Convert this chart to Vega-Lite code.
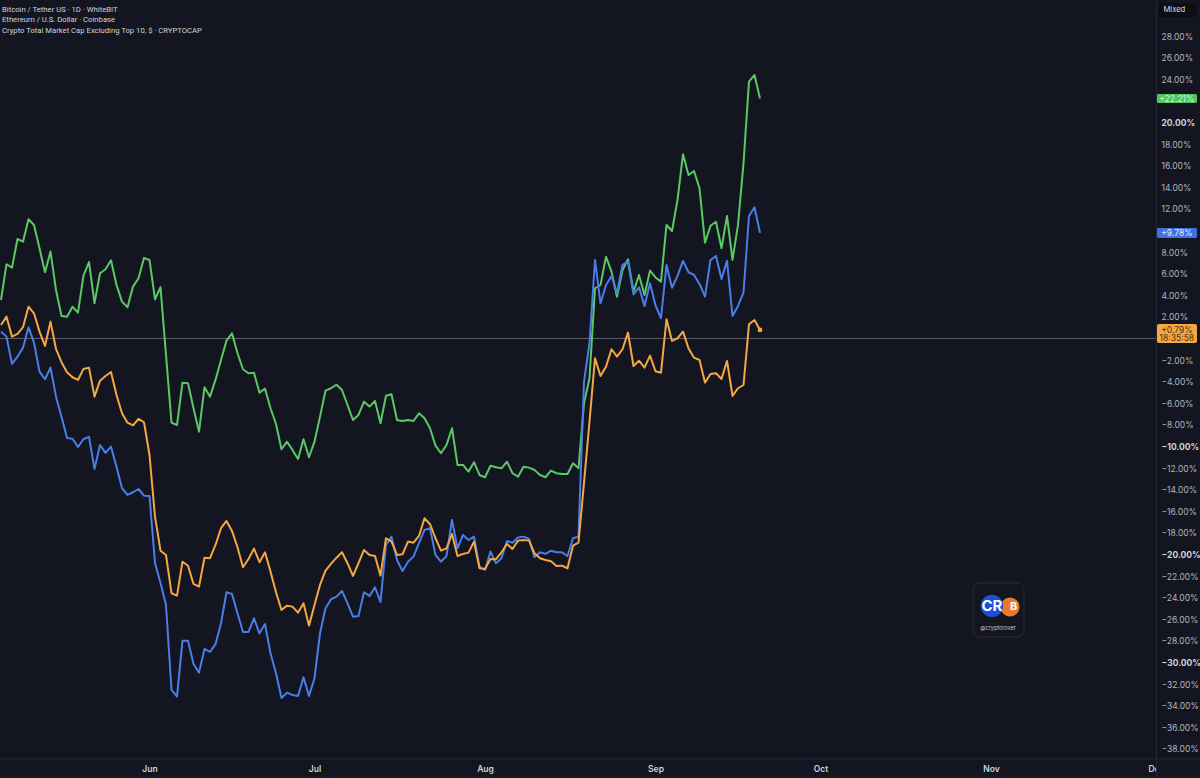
{"$schema":"https://vega.github.io/schema/vega-lite/v6.json","width":1156,"height":759,"padding":{"left":0,"top":0,"right":44,"bottom":19},"autosize":{"type":"none"},"background":"#131621","config":{"view":{"stroke":null},"font":"Inter"},"resolve":{"axis":{"x":"independent","y":"independent"}},
"datasets":{"series":[
{"d":"2024-05-05","g":3.56,"b":0.63,"o":1.25},{"d":"2024-05-06","g":6.87,"b":0.17,"o":2.02},{"d":"2024-05-07","g":6.56,"b":-2.36,"o":0.17},{"d":"2024-05-08","g":9.21,"b":-1.69,"o":0.42},{"d":"2024-05-09","g":8.96,"b":-0.85,"o":1.04},{"d":"2024-05-10","g":11.04,"b":1.04,"o":2.94},{"d":"2024-05-11","g":10.51,"b":-0.39,"o":2.33},{"d":"2024-05-12","g":8.35,"b":-3.07,"o":0.63},{"d":"2024-05-13","g":6.13,"b":-3.78,"o":-0.69},{"d":"2024-05-14","g":8.04,"b":-2.70,"o":1.56},
{"d":"2024-05-15","g":4.49,"b":-5.39,"o":-0.97},{"d":"2024-05-16","g":2.08,"b":-7.24,"o":-2.20},{"d":"2024-05-17","g":2.02,"b":-9.21,"o":-3.13},{"d":"2024-05-18","g":2.94,"b":-9.28,"o":-3.59},{"d":"2024-05-19","g":2.39,"b":-10.05,"o":-3.84},{"d":"2024-05-20","g":5.81,"b":-9.31,"o":-2.82},{"d":"2024-05-21","g":7.08,"b":-9.12,"o":-2.70},{"d":"2024-05-22","g":3.26,"b":-12.08,"o":-5.39},{"d":"2024-05-23","g":6.04,"b":-9.86,"o":-3.91},{"d":"2024-05-24","g":6.41,"b":-10.60,"o":-3.47},
{"d":"2024-05-25","g":7.24,"b":-10.02,"o":-3.10},{"d":"2024-05-26","g":4.95,"b":-11.87,"o":-5.23},{"d":"2024-05-27","g":3.41,"b":-13.87,"o":-6.93},{"d":"2024-05-28","g":2.89,"b":-14.49,"o":-7.80},{"d":"2024-05-29","g":4.80,"b":-14.24,"o":-8.04},{"d":"2024-05-30","g":5.57,"b":-13.94,"o":-7.45},{"d":"2024-05-31","g":7.45,"b":-14.56,"o":-7.76},{"d":"2024-06-01","g":7.27,"b":-14.58,"o":-10.79},{"d":"2024-06-02","g":3.63,"b":-20.81,"o":-16.50},{"d":"2024-06-03","g":4.74,"b":-22.64,"o":-19.65},
{"d":"2024-06-04","g":-1.53,"b":-24.68,"o":-20.05},{"d":"2024-06-05","g":-7.80,"b":-32.55,"o":-23.59},{"d":"2024-06-06","g":-8.01,"b":-33.17,"o":-23.81},{"d":"2024-06-07","g":-4.09,"b":-27.98,"o":-20.67},{"d":"2024-06-08","g":-4.15,"b":-27.98,"o":-21.04},{"d":"2024-06-09","g":-6.46,"b":-30.14,"o":-22.73},{"d":"2024-06-10","g":-8.63,"b":-30.94,"o":-22.98},{"d":"2024-06-11","g":-4.52,"b":-28.75,"o":-20.30},{"d":"2024-06-12","g":-5.39,"b":-29.03,"o":-20.35},{"d":"2024-06-13","g":-3.84,"b":-28.31,"o":-19.12},
{"d":"2024-06-14","g":-1.99,"b":-26.37,"o":-17.57},{"d":"2024-06-15","g":-0.20,"b":-23.50,"o":-16.90},{"d":"2024-06-16","g":0.48,"b":-23.66,"o":-17.82},{"d":"2024-06-17","g":-1.37,"b":-25.44,"o":-19.33},{"d":"2024-06-18","g":-2.85,"b":-27.18,"o":-21.19},{"d":"2024-06-19","g":-3.22,"b":-27.18,"o":-20.42},{"d":"2024-06-20","g":-3.17,"b":-25.91,"o":-19.46},{"d":"2024-06-21","g":-5.02,"b":-27.30,"o":-20.72},{"d":"2024-06-22","g":-4.65,"b":-26.44,"o":-19.80},{"d":"2024-06-23","g":-6.46,"b":-29.15,"o":-21.59},
{"d":"2024-06-24","g":-7.92,"b":-31.00,"o":-23.50},{"d":"2024-06-25","g":-10.26,"b":-33.29,"o":-25.14},{"d":"2024-06-26","g":-9.56,"b":-32.80,"o":-24.74},{"d":"2024-06-27","g":-10.32,"b":-33.01,"o":-24.83},{"d":"2024-06-28","g":-11.16,"b":-33.10,"o":-25.39},{"d":"2024-06-29","g":-9.33,"b":-31.37,"o":-24.52},{"d":"2024-06-30","g":-11.00,"b":-33.10,"o":-26.59},{"d":"2024-07-01","g":-9.56,"b":-31.46,"o":-24.68},{"d":"2024-07-02","g":-7.24,"b":-27.30,"o":-22.82},{"d":"2024-07-03","g":-4.83,"b":-24.98,"o":-21.50},
{"d":"2024-07-04","g":-4.61,"b":-24.15,"o":-20.88},{"d":"2024-07-05","g":-4.28,"b":-23.91,"o":-20.30},{"d":"2024-07-06","g":-4.77,"b":-23.38,"o":-19.80},{"d":"2024-07-07","g":-6.16,"b":-24.52,"o":-20.81},{"d":"2024-07-08","g":-7.55,"b":-25.76,"o":-21.99},{"d":"2024-07-09","g":-7.08,"b":-25.69,"o":-20.81},{"d":"2024-07-10","g":-5.85,"b":-23.50,"o":-19.58},{"d":"2024-07-11","g":-6.31,"b":-23.84,"o":-20.05},{"d":"2024-07-12","g":-5.79,"b":-23.04,"o":-20.14},{"d":"2024-07-13","g":-7.85,"b":-24.40,"o":-21.96},
{"d":"2024-07-14","g":-5.30,"b":-19.12,"o":-18.50},{"d":"2024-07-15","g":-5.17,"b":-18.35,"o":-18.81},{"d":"2024-07-16","g":-7.55,"b":-20.51,"o":-20.05},{"d":"2024-07-17","g":-7.64,"b":-21.53,"o":-19.98},{"d":"2024-07-18","g":-7.55,"b":-20.67,"o":-18.81},{"d":"2024-07-19","g":-7.64,"b":-20.20,"o":-18.91},{"d":"2024-07-20","g":-6.93,"b":-18.96,"o":-18.29},{"d":"2024-07-21","g":-7.39,"b":-17.73,"o":-16.65},{"d":"2024-07-22","g":-8.31,"b":-17.57,"o":-17.20},{"d":"2024-07-23","g":-9.93,"b":-20.05,"o":-18.50},
{"d":"2024-07-24","g":-10.63,"b":-20.67,"o":-19.65},{"d":"2024-07-25","g":-9.86,"b":-20.14,"o":-19.43},{"d":"2024-07-26","g":-8.31,"b":-16.81,"o":-18.10},{"d":"2024-07-27","g":-11.71,"b":-19.43,"o":-20.14},{"d":"2024-07-28","g":-11.71,"b":-18.19,"o":-19.95},{"d":"2024-07-29","g":-12.33,"b":-18.66,"o":-19.83},{"d":"2024-07-30","g":-11.46,"b":-18.35,"o":-18.81},{"d":"2024-07-31","g":-12.64,"b":-21.13,"o":-21.28},{"d":"2024-08-01","g":-12.85,"b":-21.44,"o":-21.34},{"d":"2024-08-02","g":-11.78,"b":-19.74,"o":-20.42},
{"d":"2024-08-03","g":-11.93,"b":-20.81,"o":-20.44},{"d":"2024-08-04","g":-12.02,"b":-20.35,"o":-19.80},{"d":"2024-08-05","g":-11.41,"b":-18.75,"o":-19.03},{"d":"2024-08-06","g":-12.48,"b":-18.91,"o":-19.49},{"d":"2024-08-07","g":-12.80,"b":-18.44,"o":-18.72},{"d":"2024-08-08","g":-11.87,"b":-18.35,"o":-18.66},{"d":"2024-08-09","g":-11.96,"b":-18.56,"o":-18.72},{"d":"2024-08-10","g":-12.18,"b":-20.26,"o":-19.89},{"d":"2024-08-11","g":-12.64,"b":-19.80,"o":-20.35},{"d":"2024-08-12","g":-12.85,"b":-19.95,"o":-20.51},
{"d":"2024-08-13","g":-12.24,"b":-19.65,"o":-20.63},{"d":"2024-08-14","g":-12.48,"b":-19.80,"o":-21.06},{"d":"2024-08-15","g":-12.55,"b":-19.80,"o":-21.04},{"d":"2024-08-16","g":-12.55,"b":-20.14,"o":-21.28},{"d":"2024-08-17","g":-11.56,"b":-18.50,"o":-19.19},{"d":"2024-08-18","g":-12.02,"b":-18.35,"o":-18.91},{"d":"2024-08-19","g":-6.00,"b":-4.00,"o":-13.38},{"d":"2024-08-20","g":-3.69,"b":-0.42,"o":-7.70},{"d":"2024-08-21","g":4.65,"b":7.27,"o":-1.83},{"d":"2024-08-22","g":4.95,"b":3.26,"o":-3.47},
{"d":"2024-08-23","g":7.57,"b":4.95,"o":-2.61},{"d":"2024-08-24","g":6.19,"b":5.79,"o":-1.00},{"d":"2024-08-25","g":3.87,"b":4.19,"o":-1.69},{"d":"2024-08-26","g":6.34,"b":6.81,"o":-1.00},{"d":"2024-08-27","g":7.33,"b":7.11,"o":0.54},{"d":"2024-08-28","g":4.33,"b":4.09,"o":-2.55},{"d":"2024-08-29","g":5.88,"b":4.74,"o":-2.06},{"d":"2024-08-30","g":4.03,"b":3.01,"o":-2.70},{"d":"2024-08-31","g":6.28,"b":5.11,"o":-1.59},{"d":"2024-09-01","g":5.65,"b":3.06,"o":-3.04},
{"d":"2024-09-02","g":5.26,"b":1.87,"o":-3.17},{"d":"2024-09-03","g":10.51,"b":6.81,"o":1.78},{"d":"2024-09-04","g":9.95,"b":4.70,"o":-0.23},{"d":"2024-09-05","g":12.82,"b":5.79,"o":0.02},{"d":"2024-09-06","g":17.06,"b":7.18,"o":0.63},{"d":"2024-09-07","g":15.14,"b":6.13,"o":-0.91},{"d":"2024-09-08","g":15.51,"b":5.88,"o":-1.78},{"d":"2024-09-09","g":13.91,"b":5.05,"o":-1.99},{"d":"2024-09-10","g":8.87,"b":3.87,"o":-4.09},{"d":"2024-09-11","g":10.44,"b":7.27,"o":-3.29},
{"d":"2024-09-12","g":10.81,"b":7.64,"o":-3.22},{"d":"2024-09-13","g":8.35,"b":5.51,"o":-3.75},{"d":"2024-09-14","g":11.34,"b":7.20,"o":-2.08},{"d":"2024-09-15","g":7.27,"b":2.08,"o":-5.32},{"d":"2024-09-16","g":10.51,"b":3.01,"o":-4.61},{"d":"2024-09-17","g":16.22,"b":4.24,"o":-4.31},{"d":"2024-09-18","g":23.78,"b":11.34,"o":1.31},{"d":"2024-09-19","g":24.40,"b":12.15,"o":1.71},{"d":"2024-09-20","g":22.21,"b":9.78,"o":0.79}
]},
"layer":[
{"data":{"values":[{"v":0}]},"mark":{"type":"rule","color":"#5d606b","strokeWidth":1},"encoding":{
"y":{"field":"v","type":"quantitative","title":null,"scale":{"domain":[-38.94,31.34],"nice":false,"zero":false},"axis":{"title":null,"orient":"right","values":[-38,-36,-34,-32,-30,-28,-26,-24,-22,-20,-18,-16,-14,-12,-10,-8,-6,-4,-2,2,4,6,8,12,14,16,18,20,24,26,28],"labelExpr":"(datum.value<0?'−':'')+format(abs(datum.value),'.2f')+'%'","domain":false,"ticks":false,"grid":false,"labelFont":"Inter","labelFontSize":8.5,"labelPadding":5,"labelOverlap":false,"labelBound":false,"labelFlush":false,"labelSeparation":0,"labelColor":{"condition":{"test":"datum.value % 10 === 0","value":"#d1d4dc"},"value":"#b2b5be"},"labelFontWeight":{"condition":{"test":"datum.value % 10 === 0","value":"bold"},"value":"normal"}}}}},
{"data":{"name":"series"},"mark":{"type":"line","color":"#5bc864","strokeWidth":2,"strokeJoin":"round"},"encoding":{"x":{"field":"d","type":"temporal","title":null,"scale":{"type":"utc","domain":[1714851490909,1733011200000],"nice":false},"axis":{"title":null,"orient":"bottom","labelExpr":"utcFormat(datum.value,'%b')","values":[1717200000000,1719792000000,1722470400000,1725148800000,1727740800000,1730419200000,1733011200000],"domain":false,"ticks":false,"grid":false,"labelFont":"Inter","labelFontSize":8.5,"labelFontWeight":600,"labelColor":"#d1d4dc","labelPadding":5,"labelOverlap":false,"labelBound":false,"labelFlush":false}},"y":{"field":"g","type":"quantitative","title":null,"axis":null}}},
{"data":{"name":"series"},"mark":{"type":"line","color":"#4a7de8","strokeWidth":2,"strokeJoin":"round"},"encoding":{"x":{"field":"d","type":"temporal","axis":null},"y":{"field":"b","type":"quantitative","axis":null}}},
{"data":{"name":"series"},"mark":{"type":"line","color":"#f5a742","strokeWidth":2,"strokeJoin":"round"},"encoding":{"x":{"field":"d","type":"temporal","axis":null},"y":{"field":"o","type":"quantitative","axis":null}}},
{"data":{"values":[{"d":"2024-09-20","v":0.79}]},"mark":{"type":"circle","color":"#f5a742","size":22,"opacity":1},"encoding":{"x":{"field":"d","type":"temporal","axis":null},"y":{"field":"v","type":"quantitative","axis":null}}},
{"data":{"values":[{"d":"2024-12-01T00:00:00Z","d2":"2024-12-10T00:00:00Z","v":-38.99,"v2":-40.51}]},"mark":{"type":"rect","color":"#131621"},"encoding":{"x":{"field":"d","type":"temporal","axis":null},"x2":{"field":"d2"},"y":{"field":"v","type":"quantitative","axis":null},"y2":{"field":"v2"}}},
{"data":{"values":[{"d":"2024-05-04T19:38:00Z","d2":"2024-12-10T00:00:00Z","v":-38.94}]},"mark":{"type":"rule","color":"#262935","strokeWidth":1},"encoding":{"x":{"field":"d","type":"temporal","axis":null},"x2":{"field":"d2"},"y":{"field":"v","type":"quantitative","axis":null}}},
{"data":{"values":[{"d":"2024-12-01T02:00:00Z","v":31.34,"v2":-40.51}]},"mark":{"type":"rule","color":"#262935","strokeWidth":1},"encoding":{"x":{"field":"d","type":"temporal","axis":null},"y":{"field":"v","type":"quantitative","axis":null},"y2":{"field":"v2"}}},
{"data":{"values":[{"d":"2024-05-04T19:38:00Z","d2":"2024-12-10T00:00:00Z","v":-40.51,"v2":-40.8}]},"mark":{"type":"rect","color":"#1b1b1d"},"encoding":{"x":{"field":"d","type":"temporal","axis":null},"x2":{"field":"d2"},"y":{"field":"v","type":"quantitative","axis":null},"y2":{"field":"v2"}}},
{"data":{"values":[{"d":"2024-12-01T13:00:00Z","d2":"2024-12-08T10:51:00Z","v":31.06,"v2":29.77}]},"mark":{"type":"rect","color":"#0d0e14","cornerRadius":2},"encoding":{"x":{"field":"d","type":"temporal","axis":null},"x2":{"field":"d2"},"y":{"field":"v","type":"quantitative","axis":null},"y2":{"field":"v2"}}},
{"data":{"values":[{"d":"2024-12-01T04:22:00Z","d2":"2024-12-08T10:51:00Z","v":22.64,"v2":21.81}]},"mark":{"type":"rect","color":"#52c45e","cornerRadius":1.5},"encoding":{"x":{"field":"d","type":"temporal","axis":null},"x2":{"field":"d2"},"y":{"field":"v","type":"quantitative","axis":null},"y2":{"field":"v2"}}},
{"data":{"values":[{"d":"2024-12-01T04:22:00Z","d2":"2024-12-08T10:51:00Z","v":10.23,"v2":9.31}]},"mark":{"type":"rect","color":"#3d72e0","cornerRadius":1.5},"encoding":{"x":{"field":"d","type":"temporal","axis":null},"x2":{"field":"d2"},"y":{"field":"v","type":"quantitative","axis":null},"y2":{"field":"v2"}}},
{"data":{"values":[{"d":"2024-12-01T04:22:00Z","d2":"2024-12-08T10:51:00Z","v":1.34,"v2":-0.42}]},"mark":{"type":"rect","color":"#f5a742","cornerRadius":2},"encoding":{"x":{"field":"d","type":"temporal","axis":null},"x2":{"field":"d2"},"y":{"field":"v","type":"quantitative","axis":null},"y2":{"field":"v2"}}},
{"data":{"values":[{"d":"2024-05-05T04:22:00Z","v":30.42,"t":"Bitcoin / Tether US · 1D · WhiteBIT"},{"d":"2024-05-05T04:22:00Z","v":29.46,"t":"Ethereum / U.S. Dollar · Coinbase"},{"d":"2024-05-05T04:22:00Z","v":28.5,"t":"Crypto Total Market Cap Excluding Top 10, $ · CRYPTOCAP"}]},"mark":{"type":"text","font":"Roboto","fontSize":7.7,"color":"#d1d4dc","align":"left","baseline":"middle"},"encoding":{"x":{"field":"d","type":"temporal","axis":null},"y":{"field":"v","type":"quantitative","axis":null},"text":{"field":"t"}}},
{"data":{"values":[{"d":"2024-12-04T08:00:00Z","v":30.42,"t":"Mixed"}]},"mark":{"type":"text","font":"Inter","fontSize":7.6,"color":"#d8dade","align":"center","baseline":"middle"},"encoding":{"x":{"field":"d","type":"temporal","axis":null},"y":{"field":"v","type":"quantitative","axis":null},"text":{"field":"t"}}},
{"data":{"values":[{"d":"2024-12-04T19:00:00Z","v":22.21,"t":"+22.21%"}]},"mark":{"type":"text","font":"Inter","fontSize":8.5,"color":"#d9f5dc","align":"center","baseline":"middle"},"encoding":{"x":{"field":"d","type":"temporal","axis":null},"y":{"field":"v","type":"quantitative","axis":null},"text":{"field":"t"}}},
{"data":{"values":[{"d":"2024-12-04T19:00:00Z","v":9.78,"t":"+9.78%"}]},"mark":{"type":"text","font":"Inter","fontSize":8.5,"color":"#e8eefc","align":"center","baseline":"middle"},"encoding":{"x":{"field":"d","type":"temporal","axis":null},"y":{"field":"v","type":"quantitative","axis":null},"text":{"field":"t"}}},
{"data":{"values":[{"d":"2024-12-04T19:00:00Z","v":0.79,"t":"+0.79%"},{"d":"2024-12-04T19:00:00Z","v":0.02,"t":"18:35:58"}]},"mark":{"type":"text","font":"Inter","fontSize":8.5,"color":"#4a3210","align":"center","baseline":"middle"},"encoding":{"x":{"field":"d","type":"temporal","axis":null},"y":{"field":"v","type":"quantitative","axis":null},"text":{"field":"t"}}},
{"data":{"values":[{"d":"2024-10-28T17:27:00Z","d2":"2024-11-07T00:00:00Z","v":-22.64,"v2":-27.64}]},"mark":{"type":"rect","color":"#14161f","stroke":"#2a2c36","strokeWidth":1,"cornerRadius":7},"encoding":{"x":{"field":"d","type":"temporal","axis":null},"x2":{"field":"d2"},"y":{"field":"v","type":"quantitative","axis":null},"y2":{"field":"v2"}}},
{"data":{"values":[{"d":"2024-11-04T11:00:00Z","v":-24.86}]},"mark":{"type":"circle","color":"#e87a2e","size":360,"opacity":1},"encoding":{"x":{"field":"d","type":"temporal","axis":null},"y":{"field":"v","type":"quantitative","axis":null}}},
{"data":{"values":[{"d":"2024-11-01T04:00:00Z","v":-24.77}]},"mark":{"type":"circle","color":"#1c4fd6","size":500,"opacity":1},"encoding":{"x":{"field":"d","type":"temporal","axis":null},"y":{"field":"v","type":"quantitative","axis":null}}},
{"data":{"values":[{"d":"2024-11-01T04:00:00Z","v":-24.77,"t":"CR"}]},"mark":{"type":"text","font":"Inter","fontSize":15,"fontWeight":"bold","color":"#ffffff","align":"center","baseline":"middle"},"encoding":{"x":{"field":"d","type":"temporal","axis":null},"y":{"field":"v","type":"quantitative","axis":null},"text":{"field":"t"}}},
{"data":{"values":[{"d":"2024-11-05T03:00:00Z","v":-24.86,"t":"B"}]},"mark":{"type":"text","font":"Inter","fontSize":11,"fontWeight":"bold","color":"#ffffff","align":"center","baseline":"middle"},"encoding":{"x":{"field":"d","type":"temporal","axis":null},"y":{"field":"v","type":"quantitative","axis":null},"text":{"field":"t"}}},
{"data":{"values":[{"d":"2024-11-02T06:30:00Z","v":-26.81,"t":"@cryptorover"}]},"mark":{"type":"text","font":"Inter","fontSize":5.5,"color":"#c8cad0","align":"center","baseline":"middle"},"encoding":{"x":{"field":"d","type":"temporal","axis":null},"y":{"field":"v","type":"quantitative","axis":null},"text":{"field":"t"}}}
]}
